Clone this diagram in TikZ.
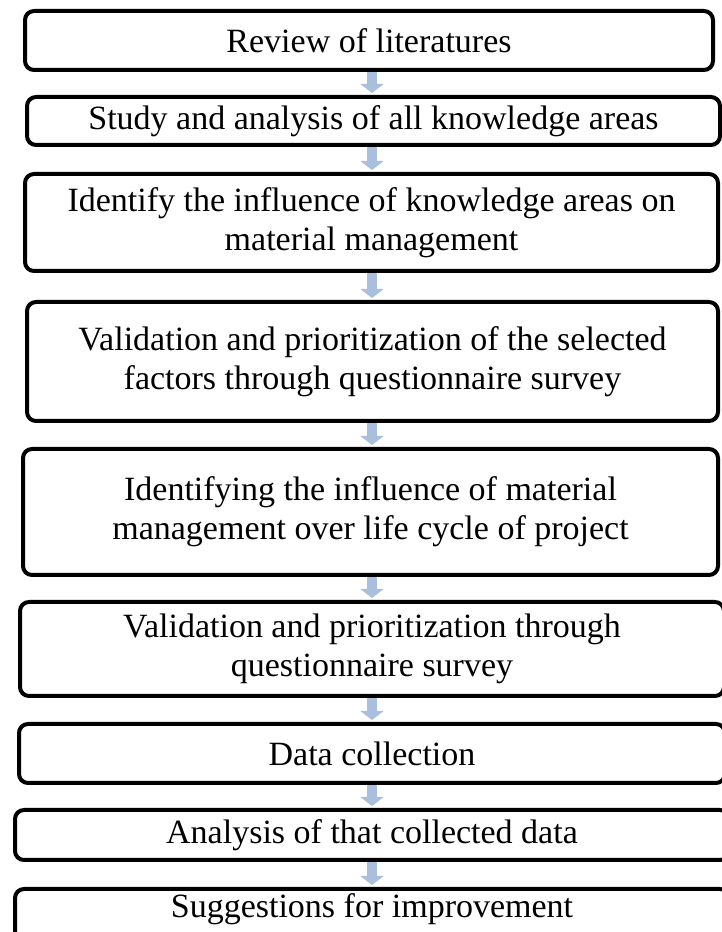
\documentclass[tikz,border=0pt]{standalone}
\usepackage{fontspec}
\setmainfont{Liberation Serif}
\usetikzlibrary{arrows.meta,calc}
\definecolor{arrowblue}{RGB}{170,190,222}
\begin{document}
\begin{tikzpicture}[x=1pt,y=1pt,
  box/.style={draw=black, line width=4pt, rounded corners=9pt, fill=white,
    align=center, inner sep=0pt, font=\fontsize{34}{39}\selectfont},
  flow/.style={draw=arrowblue, line width=10pt,
    -{Triangle[length=9pt,width=23pt]}, shorten <=0.5pt, shorten >=2pt}]
\useasboundingbox (0,0) rectangle (722,932);
\fill[white] (0,0) rectangle (722,932);
\coordinate (ax) at (372,0);
\node[box, minimum width=688pt, minimum height=59pt] (n1) at (369,891.5) {Review of literatures};
\node[box, minimum width=693pt, minimum height=48pt] (n2) at (373.5,811) {Study and analysis of all knowledge areas};
\node[box, minimum width=693pt, minimum height=97pt] (n3) at (371.5,709.5) {Identify the influence of knowledge areas on\\material management};
\node[box, minimum width=691pt, minimum height=119pt] (n4) at (372.5,570.5) {Validation and prioritization of the selected\\factors through questionnaire survey};
\node[box, minimum width=695pt, minimum height=126pt] (n5) at (370.5,420) {Identifying the influence of material\\management over life cycle of project};
\node[box, minimum width=704pt, minimum height=94pt] (n6) at (372,283) {Validation and prioritization through\\questionnaire survey};
\node[box, minimum width=706pt, minimum height=59pt] (n7) at (372,178.5) {Data collection};
\node[box, minimum width=714pt, minimum height=50pt] (n8) at (372,97) {Analysis of that collected data};
\node[box, anchor=north, minimum width=714pt, text height=29pt, text depth=44pt] (n9) at (372,45) {Suggestions for improvement};
\draw[flow] (n1.south -| ax) -- (n2.north -| ax);
\draw[flow] (n2.south -| ax) -- (n3.north -| ax);
\draw[flow] (n3.south -| ax) -- (n4.north -| ax);
\draw[flow] (n4.south -| ax) -- (n5.north -| ax);
\draw[flow] (n5.south -| ax) -- (n6.north -| ax);
\draw[flow] (n6.south -| ax) -- (n7.north -| ax);
\draw[flow] (n7.south -| ax) -- (n8.north -| ax);
\draw[flow] (n8.south -| ax) -- (n9.north -| ax);
\end{tikzpicture}
\end{document}
